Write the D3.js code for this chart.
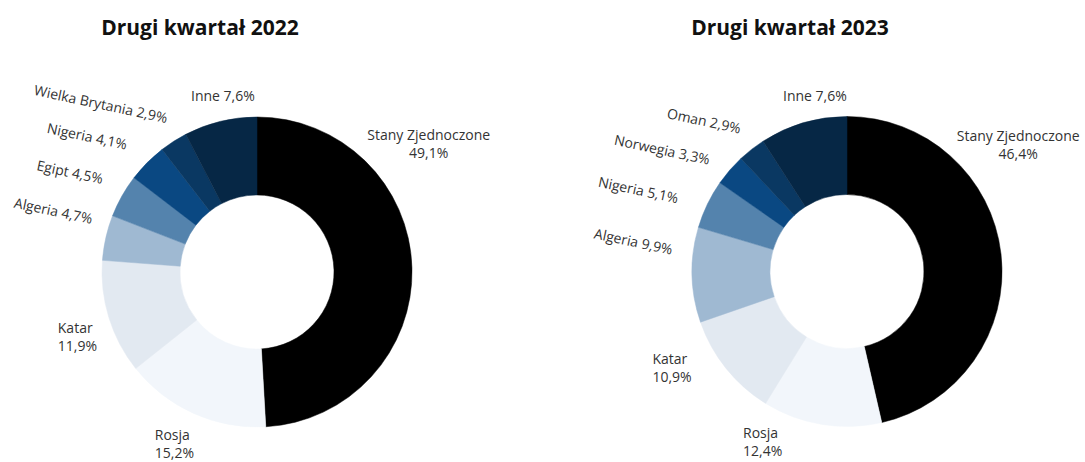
<!DOCTYPE html>
<html>
<head>
<meta charset="utf-8">
<script src="https://cdn.jsdelivr.net/npm/d3@7"></script>
<style>
  body { margin: 0; background: #fff; }
  text { font-family: "Open Sans", sans-serif; }
</style>
</head>
<body>
<svg id="chart" width="1085" height="462"></svg>
<script>
// data (clockwise from 12 o'clock)
var titles = ["Drugi kwartał 2022", "Drugi kwartał 2023"];
var countries2022 = ["Stany Zjednoczone", "Rosja", "Katar", "Algeria", "Egipt", "Nigeria", "Wielka Brytania", "Inne"];
var shares2022 = [49.1, 15.2, 11.9, 4.7, 4.5, 4.1, 2.9, 7.6];
var countries2023 = ["Stany Zjednoczone", "Rosja", "Katar", "Algeria", "Nigeria", "Norwegia", "Oman", "Inne"];
var shares2023 = [46.4, 12.4, 10.9, 9.9, 5.1, 3.3, 2.9, 7.6];

// styling
var sliceColors = ["#000000", "#f2f6fb", "#e2e9f1", "#9fb9d2", "#5483ad", "#0a4882", "#0a3862", "#062745"];
var horizontal = [true, true, true, false, false, false, false, true]; // which labels sit flat
var multiline = [true, true, true, false, false, false, false, false];
var align = ["middle", "start", "start", "end", "end", "end", "end", "middle"];

// label placement: [angle nudge in degrees, radius]
var panels = [
  { cx: 257, cy: 272, countries: countries2022, shares: shares2022, title: titles[0],
    place: [[-35, 214], [1.5, 191], [-2.8, 191], [5, 173], [1.7, 180], [-0.5, 182], [2.3, 178], [2.7, 179]] },
  { cx: 847, cy: 271.5, countries: countries2023, shares: shares2023, title: titles[1],
    place: [[-30, 213], [17, 190], [9.7, 200], [8.3, 176], [-2.4, 184], [-1.8, 177], [1.3, 178], [6, 178]] }
];

var outerR = 155, innerR = 77, lineGap = 18;
var fmt = function(v) { return v.toFixed(1).replace(".", ",") + "%"; };

var svg = d3.select("#chart");
var arc = d3.arc().innerRadius(innerR).outerRadius(outerR);

panels.forEach(function(p) {
  var last = p.shares.length - 1;
  var rest = 100 - d3.sum(p.shares.slice(0, last)); // "Inne" fills the rest of the ring
  var pie = d3.pie().sort(null).value(function(d, i) { return i === last ? rest : d; });
  var arcs = pie(p.shares);

  svg.append("text")
    .attr("x", p.cx - 57).attr("y", 35)
    .attr("text-anchor", "middle")
    .style("font-size", "21px").style("font-weight", "700")
    .attr("fill", "#111")
    .text(p.title);

  var g = svg.append("g").attr("transform", "translate(" + p.cx + "," + p.cy + ")");

  g.selectAll("path.slice")
    .data(arcs)
    .enter().append("path")
      .attr("class", "slice")
      .attr("d", arc)
      .attr("fill", function(d, i) { return sliceColors[i]; })
      .attr("stroke", function(d, i) { return sliceColors[i]; })
      .attr("stroke-width", 0.5);

  arcs.forEach(function(d, i) {
    var mid = (d.startAngle + d.endAngle) / 2 + p.place[i][0] * Math.PI / 180;
    var r = p.place[i][1];
    var x = Math.sin(mid) * r, y = -Math.cos(mid) * r;
    var name = p.countries[i], pct = fmt(p.shares[i]);

    if (horizontal[i]) {
      var lg = g.append("g");
      var t = lg.append("text")
        .attr("text-anchor", align[i])
        .attr("fill", "#333")
        .style("font-size", "14px");
      // first baseline so that the visible glyph block is centred on (x, y)
      var base = multiline[i] ? y - (lineGap - 10) / 2 : y + 5;
      if (multiline[i]) {
        t.append("tspan").attr("x", 0).attr("y", base).text(name);
        t.append("tspan").attr("x", 0).attr("y", base + lineGap).text(pct);
      } else {
        t.append("tspan").attr("x", 0).attr("y", base).text(name + " " + pct);
      }
      var bb = lg.node().getBBox();
      lg.attr("transform", "translate(" + (x - bb.x - bb.width / 2) + ",0)");
    } else {
      g.append("text")
        .attr("transform", "translate(" + x + "," + y + ") rotate(12)")
        .attr("text-anchor", "end")
        .attr("dy", "0.35em")
        .attr("fill", "#333")
        .style("font-size", "14px")
        .text(name + " " + pct);
    }
  });
});
</script>
</body>
</html>
